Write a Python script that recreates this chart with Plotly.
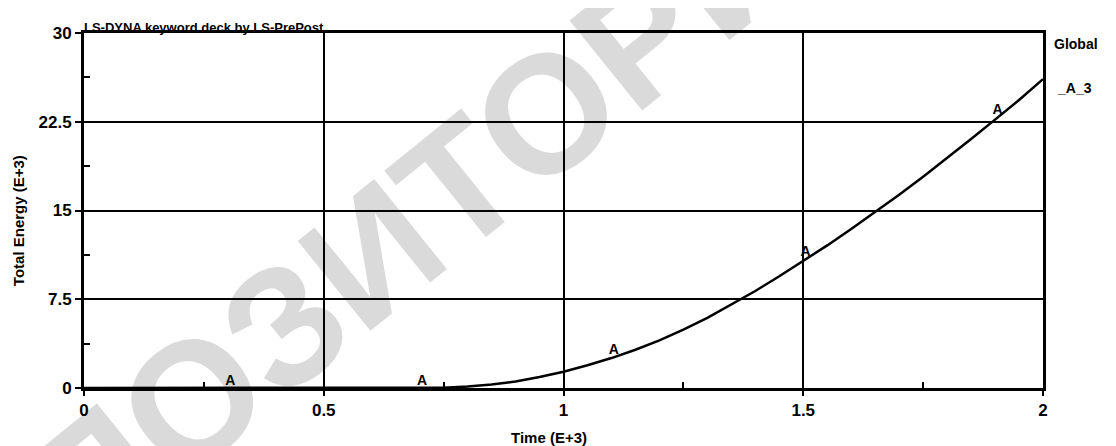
import plotly.graph_objects as go

# ---- data ----
time = [0.0, 0.3, 0.6, 0.7, 0.75, 0.8, 0.85, 0.9, 0.95, 1.0, 1.05, 1.1, 1.15, 1.2, 1.25,
        1.3, 1.35, 1.4, 1.45, 1.5, 1.55, 1.6, 1.65, 1.7, 1.75, 1.8, 1.85, 1.9, 1.95, 2.0]
energy = [0.0, 0.0, 0.0, 0.0, 0.03, 0.12, 0.3, 0.55, 0.93, 1.38, 1.92, 2.53, 3.23, 4.03, 4.93,
          5.93, 7.03, 8.2, 9.44, 10.72, 12.05, 13.43, 14.86, 16.33, 17.86, 19.43, 21.04, 22.68, 24.34, 26.1]
marker_time = [0.305, 0.705, 1.105, 1.505, 1.905]
marker_energy = [0.0, 0.0, 2.6, 10.85, 22.85]
marker_label = "A"

x_tickvals = [0, 0.5, 1, 1.5, 2]
x_ticktext = ["0", "0.5", "1", "1.5", "2"]
x_minor = [0.25, 0.75, 1.25, 1.75]
y_tickvals = [0, 7.5, 15, 22.5, 30]
y_ticktext = ["0", "7.5", "15", "22.5", "30"]
y_minor = [3.75, 11.25, 18.75, 26.25]

title_text = "LS-DYNA keyword deck by LS-PrePost"
x_title = "Time (E+3)"
y_title = "Total Energy (E+3)"
legend_title = "Global"
legend_entry = "_A_3"
watermark = "РЕПОЗИТОРИЙ"

FONT = "Liberation Sans"


def bold(size):
    return dict(family=FONT, size=size, color="black", weight="bold")


fig = go.Figure()
fig.add_trace(go.Scatter(x=time, y=energy, mode="lines",
                         line=dict(color="black", width=2.5), hoverinfo="skip",
                         showlegend=False))
fig.add_trace(go.Scatter(x=marker_time, y=marker_energy, mode="text",
                         text=[marker_label] * len(marker_time), textposition="top center",
                         textfont=bold(14), showlegend=False, hoverinfo="skip"))

fig.update_layout(
    width=1116, height=446,
    margin=dict(l=76, r=81, t=25, b=66),
    paper_bgcolor="white",
    plot_bgcolor="rgba(0,0,0,0)",
    showlegend=False,
    xaxis=dict(range=[0, 2], tickvals=x_tickvals, ticktext=x_ticktext,
               showgrid=True, gridcolor="black", gridwidth=2, zeroline=False,
               showline=True, linecolor="black", linewidth=3, mirror=True,
               ticks="outside", ticklen=5, tickwidth=2, tickcolor="black",
               tickfont=bold(17),
               minor=dict(tickvals=x_minor, ticks="inside", ticklen=6, tickwidth=2,
                          tickcolor="black", showgrid=False)),
    yaxis=dict(range=[0, 30], tickvals=y_tickvals, ticktext=y_ticktext,
               showgrid=True, gridcolor="black", gridwidth=2, zeroline=False,
               showline=True, linecolor="black", linewidth=3, mirror=True,
               ticks="outside", ticklen=6, tickwidth=2, tickcolor="black",
               tickfont=bold(17),
               minor=dict(tickvals=y_minor, ticks="inside", ticklen=6, tickwidth=2,
                          tickcolor="black", showgrid=False)),
)

# watermark below the grid
fig.add_shape(type="rect", xref="paper", yref="paper",
              x0=0.191, x1=0.391, y0=0.311, y1=0.511,
              line=dict(width=0), fillcolor="rgba(0,0,0,0)", layer="below",
              label=dict(text=watermark, textangle=-39, textposition="middle center",
                         font=dict(family=FONT, size=168, color="#dadada", weight="bold")))

fig.add_annotation(text=title_text, xref="paper", yref="paper", x=0, y=1,
                   xanchor="left", yanchor="bottom", yshift=-4, xshift=-2, showarrow=False,
                   font=bold(13))
fig.add_annotation(text=x_title, xref="paper", yref="paper", x=0.485, y=0,
                   xanchor="center", yanchor="middle", yshift=-49, showarrow=False,
                   font=bold(15))
fig.add_annotation(text=y_title, xref="paper", yref="paper", x=0, y=0.47,
                   xanchor="center", yanchor="middle", xshift=-66, textangle=-90,
                   showarrow=False, font=bold(15))
fig.add_annotation(text=legend_title, xref="paper", yref="paper", x=1, y=1,
                   xanchor="left", yanchor="middle", xshift=9, yshift=-11, showarrow=False,
                   font=bold(14))
fig.add_annotation(text=legend_entry, xref="paper", yref="paper", x=1, y=1,
                   xanchor="left", yanchor="middle", xshift=12, yshift=-55, showarrow=False,
                   font=bold(14))

fig.write_html("out.html")
